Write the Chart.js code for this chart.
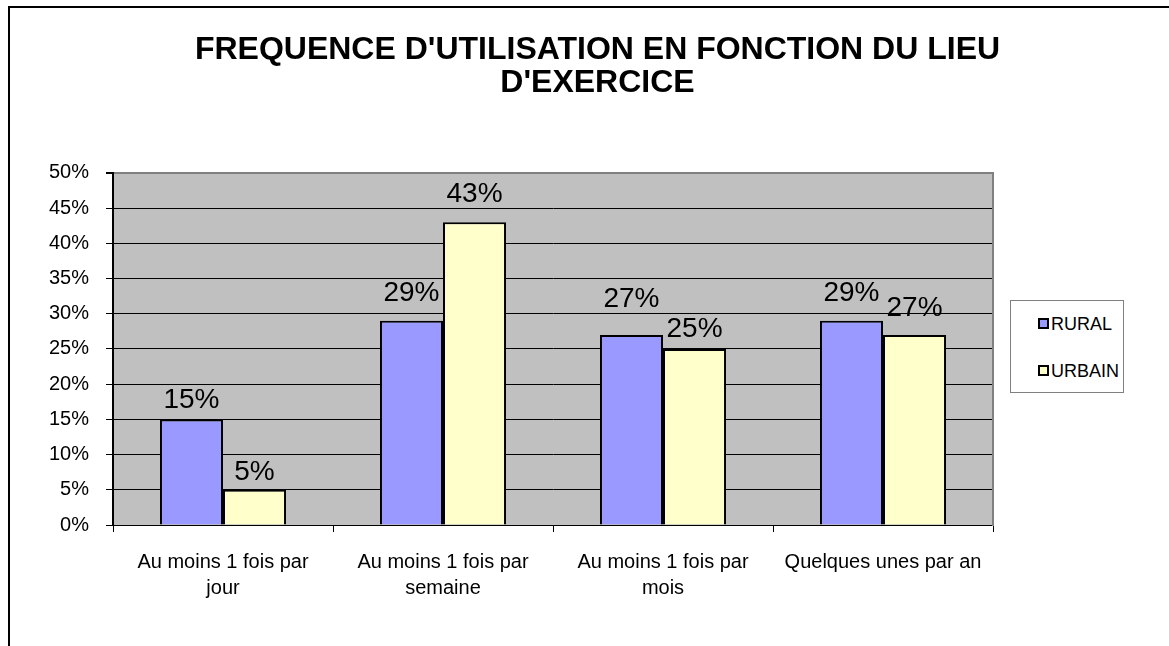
<!DOCTYPE html>
<html>
<head>
<meta charset="utf-8">
<script src="https://cdn.jsdelivr.net/npm/chart.js@4"></script>
<style>
  body { margin: 0; background: #fff; overflow: hidden; }
  #frame { position: absolute; left: 8px; top: 6px; width: 1300px; height: 800px; border: 2px solid #000; }
  #myChart { position: absolute; left: 0; top: 0; }
  #legend { position: absolute; left: 1010px; top: 300px; width: 112px; height: 91px; border: 1px solid #808080; background: #fff;
            font-family: "Liberation Sans", Arial, sans-serif; font-size: 18px; }
  .item { position: absolute; left: 27px; height: 20px; line-height: 20px; }
  .box { display: inline-block; width: 7px; height: 7px; border: 2px solid #000; margin-right: 2px; vertical-align: 1px; }
</style>
</head>
<body>
<div id="frame"></div>
<canvas id="myChart" width="1169" height="646"></canvas>
<div id="legend"></div>
<script>
const categories = [
    ['Au moins 1 fois par', 'jour'],
    ['Au moins 1 fois par', 'semaine'],
    ['Au moins 1 fois par', 'mois'],
    'Quelques unes par an'
];
const rural = [15, 29, 27, 29];
const urbain = [5, 43, 25, 27];
const seriesNames = ['RURAL', 'URBAIN'];
const seriesColors = ['#9999FF', '#FFFFCC'];
const yMax = 50;
const yStep = 5;

// écart (px) entre le haut de la barre et l'étiquette, comme dans l'original
const labelGap = [[11, 20, 28, 20], [10, 20, 12, 19]];

const font = '"Liberation Sans", Arial, sans-serif';

// fond gris de la zone de tracé
const plotBg = {
    id: 'plotBg',
    beforeDraw(chart) {
        const { ctx, chartArea: a } = chart;
        ctx.save();
        ctx.fillStyle = '#C0C0C0';
        ctx.fillRect(a.left, a.top, a.right - a.left, a.bottom - a.top);
        ctx.restore();
    }
};

// valeurs au-dessus des barres
const barLabels = {
    id: 'barLabels',
    afterDatasetsDraw(chart) {
        const ctx = chart.ctx;
        ctx.save();
        ctx.font = '28px ' + font;
        ctx.fillStyle = '#000';
        ctx.textAlign = 'center';
        ctx.textBaseline = 'alphabetic';
        chart.data.datasets.forEach((ds, i) => {
            chart.getDatasetMeta(i).data.forEach((bar, j) => {
                ctx.fillText(ds.data[j] + '%', bar.x, bar.y - labelGap[i][j]);
            });
        });
        ctx.restore();
    }
};

new Chart(document.getElementById('myChart'), {
    type: 'bar',
    data: {
        labels: categories,
        datasets: [
            { label: seriesNames[0], data: rural, backgroundColor: seriesColors[0], borderColor: '#000', borderWidth: 2 },
            { label: seriesNames[1], data: urbain, backgroundColor: seriesColors[1], borderColor: '#000', borderWidth: 2 }
        ]
    },
    options: {
        responsive: false,
        animation: false,
        layout: { padding: { left: 26, right: 0, top: 0, bottom: 0 } },
        datasets: { bar: { categoryPercentage: 0.573, barPercentage: 1 } },
        plugins: {
            legend: { display: false },
            tooltip: { enabled: false },
            title: {
                display: true,
                text: ["FREQUENCE D'UTILISATION EN FONCTION DU LIEU", "D'EXERCICE"],
                color: '#000',
                font: { family: font, size: 32, weight: 'bold', lineHeight: 1.03 },
                padding: { top: 34, bottom: 73 }
            }
        },
        scales: {
            x: {
                grid: { drawOnChartArea: false, color: '#000', tickLength: 7 },
                border: { color: '#000', width: 1 },
                ticks: { color: '#000', font: { family: font, size: 20, lineHeight: 1.3 }, padding: 17, maxRotation: 0, autoSkip: false },
                afterFit(s) { s.height = 121; }
            },
            y: {
                min: 0,
                max: yMax,
                grid: {
                    color: c => c.tick && c.tick.value === yMax ? '#808080' : '#000',
                    lineWidth: c => c.tick && c.tick.value === yMax ? 2 : 1,
                    tickColor: '#000',
                    tickLength: 7
                },
                border: { color: '#000', width: 2 },
                ticks: { stepSize: yStep, color: '#000', padding: 17, font: { family: font, size: 20 }, callback: v => v + '%' },
                afterFit(s) { s.width = 87; }
            },
            y2: {
                position: 'right',
                grid: { drawOnChartArea: false, drawTicks: false },
                border: { color: '#808080', width: 2 },
                ticks: { display: false },
                afterFit(s) { s.width = 176; }
            }
        }
    },
    plugins: [plotBg, barLabels]
});

// légende
const legend = document.getElementById('legend');
seriesNames.forEach((name, i) => {
    const item = document.createElement('div');
    item.className = 'item';
    item.style.top = (13 + i * 47) + 'px';
    item.innerHTML = '<span class="box" style="background:' + seriesColors[i] + '"></span>' + name;
    legend.appendChild(item);
});
</script>
</body>
</html>
